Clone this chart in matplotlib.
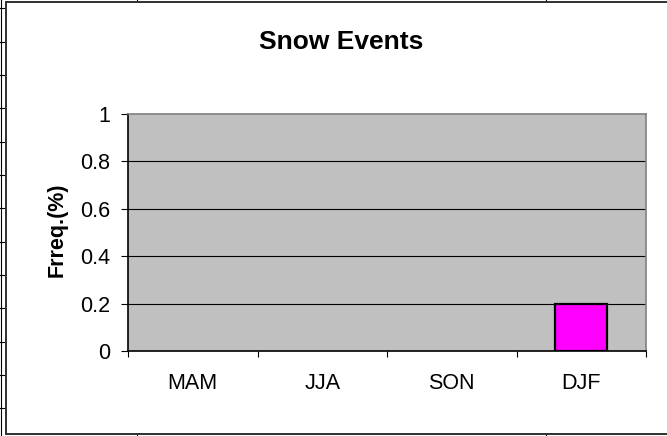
import matplotlib
matplotlib.use('Agg')
import matplotlib.pyplot as plt
import matplotlib.ticker as ticker
from matplotlib.lines import Line2D
from matplotlib.patches import Rectangle
import numpy as np

seasons = ['MAM', 'JJA', 'SON', 'DJF']
freq = [0, 0, 0, 0.2]
y_ticks = [0, 0.2, 0.4, 0.6, 0.8, 1]
y_tick_labels = ['0', '0.2', '0.4', '0.6', '0.8', '1']

W, H = 667, 436
plt.rcParams['font.family'] = ['Liberation Sans', 'DejaVu Sans']

fig = plt.figure(figsize=(W / 100, H / 100), dpi=100)


def fx(px):
    return px / W


def fy(py):
    return 1 - py / H


# spreadsheet cell lines peeking out around the chart object
fig.add_artist(Line2D([fx(1), fx(1)], [0, 1], color='black', lw=0.8, zorder=-2))
for yy in np.arange(8.5, 436, 33.3):
    fig.add_artist(Line2D([0, fx(6)], [fy(yy), fy(yy)], color='black', lw=0.8, zorder=-2))
for xx in [137, 546]:
    fig.add_artist(Line2D([fx(xx), fx(xx)], [1, fy(2)], color='black', lw=0.8, zorder=-2))
    fig.add_artist(Line2D([fx(xx), fx(xx)], [fy(434), 0], color='black', lw=0.8, zorder=-2))

# chart frame
fig.add_artist(Rectangle((fx(6), fy(434)), fx(700), fy(2) - fy(434),
                         facecolor='white', edgecolor='#303030', lw=1.4, zorder=-1))

ax = fig.add_axes([fx(128), fy(351), fx(646 - 128), fy(114) - fy(351)])
ax.set_facecolor('#C0C0C0')

x = np.arange(len(seasons))
vals = np.array(freq)
mask = vals > 0
ax.bar(x[mask], vals[mask], width=0.4, color='#FF00FF', edgecolor='black',
       linewidth=1.6, zorder=3)

ax.set_xlim(-0.5, len(seasons) - 0.5)
ax.set_ylim(0, 1)

for g in y_ticks[1:-1]:
    ax.axhline(g, color='black', lw=0.8, zorder=1)

ax.set_yticks(y_ticks)
ax.set_yticklabels(y_tick_labels)
ax.tick_params(axis='y', direction='out', length=5, width=0.8, pad=8, labelsize=15.5)

ax.set_xticks(x)
ax.set_xticklabels(seasons)
ax.xaxis.set_minor_locator(ticker.FixedLocator(np.arange(-0.5, len(seasons), 1)))
ax.tick_params(axis='x', which='major', length=0, pad=16, labelsize=15.5)
ax.tick_params(axis='x', which='minor', direction='out', length=4.5, width=0.8)

ax.spines['left'].set_color('black')
ax.spines['bottom'].set_color('black')
ax.spines['top'].set_color('#808080')
ax.spines['right'].set_color('#808080')
for s in ax.spines.values():
    s.set_linewidth(1.2)
    s.set_zorder(4)

fig.text(fx(341), fy(42), 'Snow Events', ha='center', va='center',
         fontsize=19, fontweight='bold')
fig.text(fx(57), fy(230), 'Frreq.(%)', ha='center', va='center', rotation=90,
         fontsize=15.5, fontweight='bold')

fig.savefig('out.png', dpi=100)
